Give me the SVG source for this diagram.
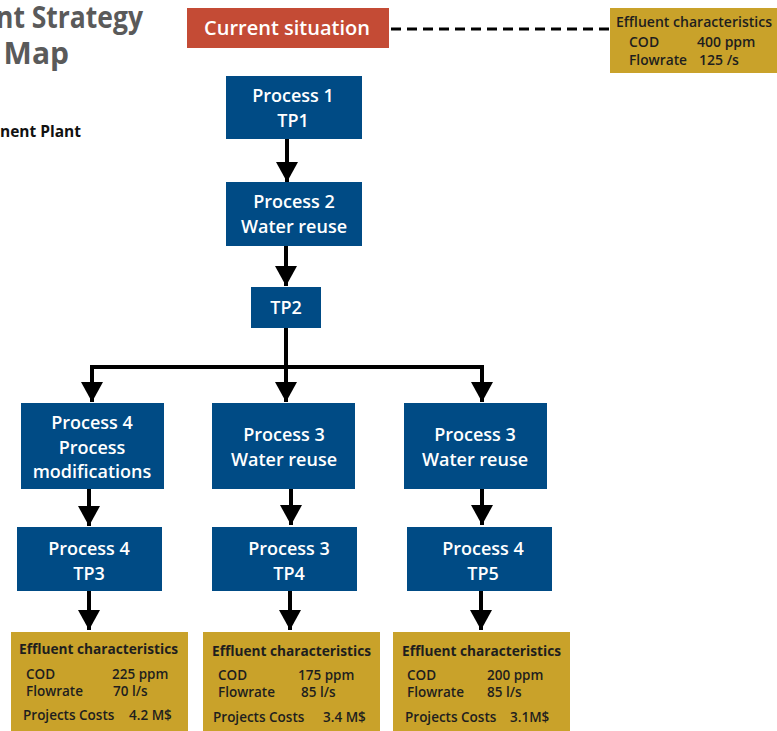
<svg xmlns="http://www.w3.org/2000/svg" width="777" height="731" viewBox="0 0 777 731">
<style>
.blue{fill:#004b85}
.gold{fill:#c9a22a}
.wt{fill:#fff;font-family:"Open Sans","Liberation Sans",sans-serif;font-weight:600;font-size:18px;text-anchor:middle}
.dt{fill:#1e1e1e;font-family:"Open Sans","Liberation Sans",sans-serif;font-weight:600;font-size:13.5px}
.ht{fill:#1e1e1e;font-family:"Open Sans","Liberation Sans",sans-serif;font-weight:700;font-size:14px}
.st{fill:#1e1e1e;font-family:"Open Sans","Liberation Sans",sans-serif;font-weight:600;font-size:14px}
.title{fill:#5a5a5a;font-family:"Open Sans","Liberation Sans",sans-serif;font-weight:700;font-size:30px}
.conn{fill:none;stroke:#000;stroke-width:4;marker-end:url(#ah)}
</style>
<defs>
<marker id="ah" markerUnits="userSpaceOnUse" markerWidth="22" markerHeight="22" refX="20" refY="11" orient="auto">
<path d="M0,0 L20,11 L0,22 z" fill="#000"/>
</marker>
</defs>
<g id="title">
<text class="title" x="-4" y="28" textLength="147" lengthAdjust="spacingAndGlyphs">nt Strategy</text>
<text class="title" x="69" y="64" style="text-anchor:end">Map</text>
<text x="81" y="137" style="fill:#111;font-family:'Open Sans','Liberation Sans',sans-serif;font-weight:700;font-size:15.5px;text-anchor:end">nent Plant</text>
</g>
<g id="connectors">
<line x1="391" y1="29" x2="610" y2="29" stroke="#000" stroke-width="3" stroke-dasharray="10,6"/>
<path class="conn" d="M287,139 V182"/>
<path class="conn" d="M286,246 V286"/>
<path class="conn" d="M286,328 V402"/>
<path class="conn" d="M286,367 H92 V402"/>
<path class="conn" d="M286,367 H482 V402"/>
<path class="conn" d="M89,489 V526"/>
<path class="conn" d="M291,489 V525"/>
<path class="conn" d="M482,489 V525"/>
<path class="conn" d="M89,591 V630"/>
<path class="conn" d="M290,591 V630"/>
<path class="conn" d="M481,591 V630"/>
</g>
<g id="current">
<rect x="187" y="8" width="202" height="40" fill="#c44b35"/>
<text class="wt" x="287" y="35" style="font-size:20px">Current situation</text>
</g>
<g id="eff0">
<rect class="gold" x="610" y="8" width="167" height="65"/>
<text class="st" x="616" y="27" textLength="156" lengthAdjust="spacingAndGlyphs">Effluent characteristics</text>
<text class="st" x="629" y="47">COD</text>
<text class="st" x="697" y="47">400 ppm</text>
<text class="st" x="629" y="65" textLength="58" lengthAdjust="spacingAndGlyphs">Flowrate</text>
<text class="st" x="699" y="65">125 /s</text>
</g>
<g id="p1">
<rect class="blue" x="226" y="76" width="136" height="63"/>
<text class="wt" x="293" y="102">Process 1</text>
<text class="wt" x="293" y="127">TP1</text>
</g>
<g id="p2">
<rect class="blue" x="226" y="182" width="136" height="64"/>
<text class="wt" x="294" y="208">Process 2</text>
<text class="wt" x="294" y="233">Water reuse</text>
</g>
<g id="tp2">
<rect class="blue" x="251" y="287" width="70" height="41"/>
<text class="wt" x="286" y="314">TP2</text>
</g>
<g id="p4a">
<rect class="blue" x="21" y="403" width="143" height="86"/>
<text class="wt" x="92" y="429">Process 4</text>
<text class="wt" x="92" y="454">Process</text>
<text class="wt" x="92" y="478">modifications</text>
</g>
<g id="p3a">
<rect class="blue" x="212" y="403" width="143" height="86"/>
<text class="wt" x="284" y="441">Process 3</text>
<text class="wt" x="284" y="466">Water reuse</text>
</g>
<g id="p3b">
<rect class="blue" x="404" y="403" width="143" height="86"/>
<text class="wt" x="475" y="441">Process 3</text>
<text class="wt" x="475" y="466">Water reuse</text>
</g>
<g id="tp3">
<rect class="blue" x="17" y="527" width="145" height="64"/>
<text class="wt" x="89" y="555">Process 4</text>
<text class="wt" x="89" y="580">TP3</text>
</g>
<g id="tp4">
<rect class="blue" x="212" y="527" width="145" height="64"/>
<text class="wt" x="289" y="555">Process 3</text>
<text class="wt" x="289" y="580">TP4</text>
</g>
<g id="tp5">
<rect class="blue" x="407" y="527" width="145" height="64"/>
<text class="wt" x="483" y="555">Process 4</text>
<text class="wt" x="483" y="580">TP5</text>
</g>
<g id="eff3">
<rect class="gold" x="11" y="632" width="177" height="99"/>
<text class="ht" x="19" y="654" textLength="159" lengthAdjust="spacingAndGlyphs">Effluent characteristics</text>
<text class="dt" x="26" y="679">COD</text>
<text class="dt" x="112" y="679">225 ppm</text>
<text class="dt" x="26" y="696">Flowrate</text>
<text class="dt" x="113" y="696">70 l/s</text>
<text class="dt" x="23" y="720">Projects Costs</text>
<text class="dt" x="129" y="720">4.2 M$</text>
</g>
<g id="eff4">
<rect class="gold" x="203" y="632" width="177" height="99"/>
<text class="ht" x="212" y="656" textLength="159" lengthAdjust="spacingAndGlyphs">Effluent characteristics</text>
<text class="dt" x="218" y="680">COD</text>
<text class="dt" x="298" y="680">175 ppm</text>
<text class="dt" x="218" y="697">Flowrate</text>
<text class="dt" x="301" y="697">85 l/s</text>
<text class="dt" x="213" y="722">Projects Costs</text>
<text class="dt" x="323" y="722">3.4 M$</text>
</g>
<g id="eff5">
<rect class="gold" x="393" y="632" width="177" height="99"/>
<text class="ht" x="402" y="656" textLength="159" lengthAdjust="spacingAndGlyphs">Effluent characteristics</text>
<text class="dt" x="407" y="680">COD</text>
<text class="dt" x="487" y="680">200 ppm</text>
<text class="dt" x="407" y="697">Flowrate</text>
<text class="dt" x="487" y="697">85 l/s</text>
<text class="dt" x="405" y="722">Projects Costs</text>
<text class="dt" x="510" y="722">3.1M$</text>
</g>
</svg>
